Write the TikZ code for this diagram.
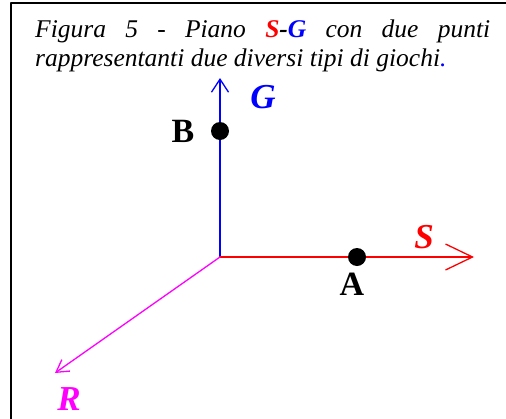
\documentclass[tikz,border=0pt]{standalone}
\usepackage{fontspec}
\setmainfont{Liberation Serif}
\usetikzlibrary{arrows.meta,positioning}
\definecolor{rmag}{RGB}{255,0,255}

\begin{document}
\begin{tikzpicture}[x=1pt,y=1pt,line cap=round,line join=round,
		axis/.style={line width=1.6pt},
		pnt/.style={circle,fill=black,inner sep=0pt,minimum size=18pt},
		lbl/.style={font=\fontsize{34}{36}\selectfont\bfseries},
		axlbl/.style={inner sep=1pt,font=\fontsize{35}{36}\selectfont\bfseries\itshape}]
			\useasboundingbox (0,0) rectangle (506,-418);
			% frame
			\draw[line width=2pt] (11,-480) -- (11,-3) -- (560,-3);
			% caption
			\node[anchor=north west,inner sep=0pt,text width=455pt,align=justify,
				font=\fontsize{25.5}{29}\selectfont\itshape] (title) at (35,-19.5)
				{Figura 5 - Piano \textcolor{red}{\textbf{S}}\textbf{-}\textcolor{blue}{\textbf{G}} con due punti\linebreak
				rappresentanti due diversi tipi di giochi\textcolor{blue}{.}};
			% axes
			\coordinate (O) at (220,-257);
			\coordinate (Gtip) at (220,-78);
			\coordinate (Stip) at (474,-257);
			\coordinate (Rtip) at (55,-373);
			\draw[axis,blue,-{Straight Barb[length=13pt,width=17pt,line width=1.3pt]}] (O) -- (Gtip);
			\draw[axis,red,-{Straight Barb[length=27pt,width=26pt,line width=1.3pt]}] (O) -- (Stip);
			\draw[rmag,line width=1.3pt,-{Straight Barb[length=12pt,width=14pt,line width=1.3pt]}] (O) -- (Rtip);
			\node[axlbl,blue] (G) at (263,-97) {G};
			\node[axlbl,red] (S) at (424,-237) {S};
			\node[axlbl,rmag] (R) at (69,-399) {R};
			% points
			\node[pnt] (B) at (220,-131) {};
			\node[pnt] (A) at (357,-257) {};
			\node[lbl,left=13pt of B] (Blbl) {B};
			\node[lbl,below=3pt of A,xshift=-5pt] (Albl) {A};
		\end{tikzpicture}
\end{document}
